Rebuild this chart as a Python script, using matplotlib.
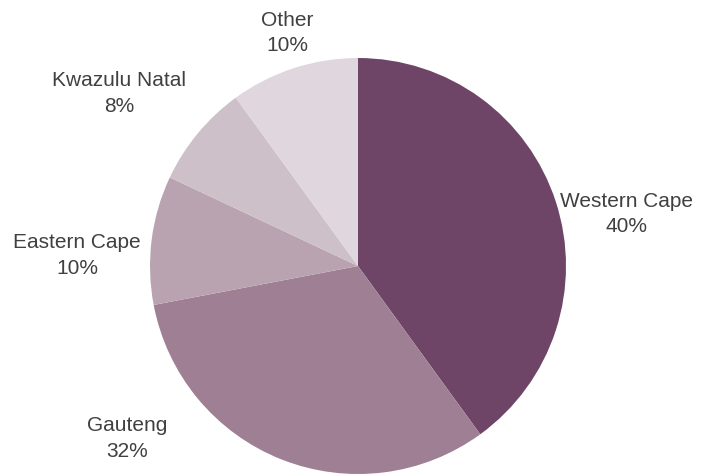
#!/usr/bin/env python3

import matplotlib
matplotlib.use('Agg')
import matplotlib.pyplot as plt
import numpy as np

regions = ['Western Cape', 'Gauteng', 'Eastern Cape', 'Kwazulu Natal', 'Other']
shares = [40, 32, 10, 8, 10]
colors = ['#6e4567', '#9f7f93', '#b9a3b1', '#cdc0c9', '#e0d6dd']

# label centres in pie radius units (x, y from the pie centre)
label_pos = [(1.29, 0.25), (-1.11, -0.83), (-1.35, 0.05), (-1.15, 0.83), (-0.34, 1.12)]

plt.rcParams['font.family'] = ['Liberation Sans', 'DejaVu Sans']

W, H = 702, 475
cx, cy, r = 358, 209, 208   # pie centre and radius in pixels (from bottom-left)

fig = plt.figure(figsize=(W / 100, H / 100), dpi=100)
ax = fig.add_axes([0, 0, 1, 1])

ax.pie(shares, colors=colors, startangle=90, counterclock=False,
       wedgeprops={'linewidth': 0})

for name, val, (x, y) in zip(regions, shares, label_pos):
    ax.text(x, y, '{}\n{}%'.format(name, val), ha='center', va='center',
            fontsize=15, color='#404040', linespacing=1.45)

ax.set_xlim(-cx / r, (W - cx) / r)
ax.set_ylim(-cy / r, (H - cy) / r)
ax.set_aspect('auto')
ax.axis('off')

fig.savefig('out.png', dpi=100)
